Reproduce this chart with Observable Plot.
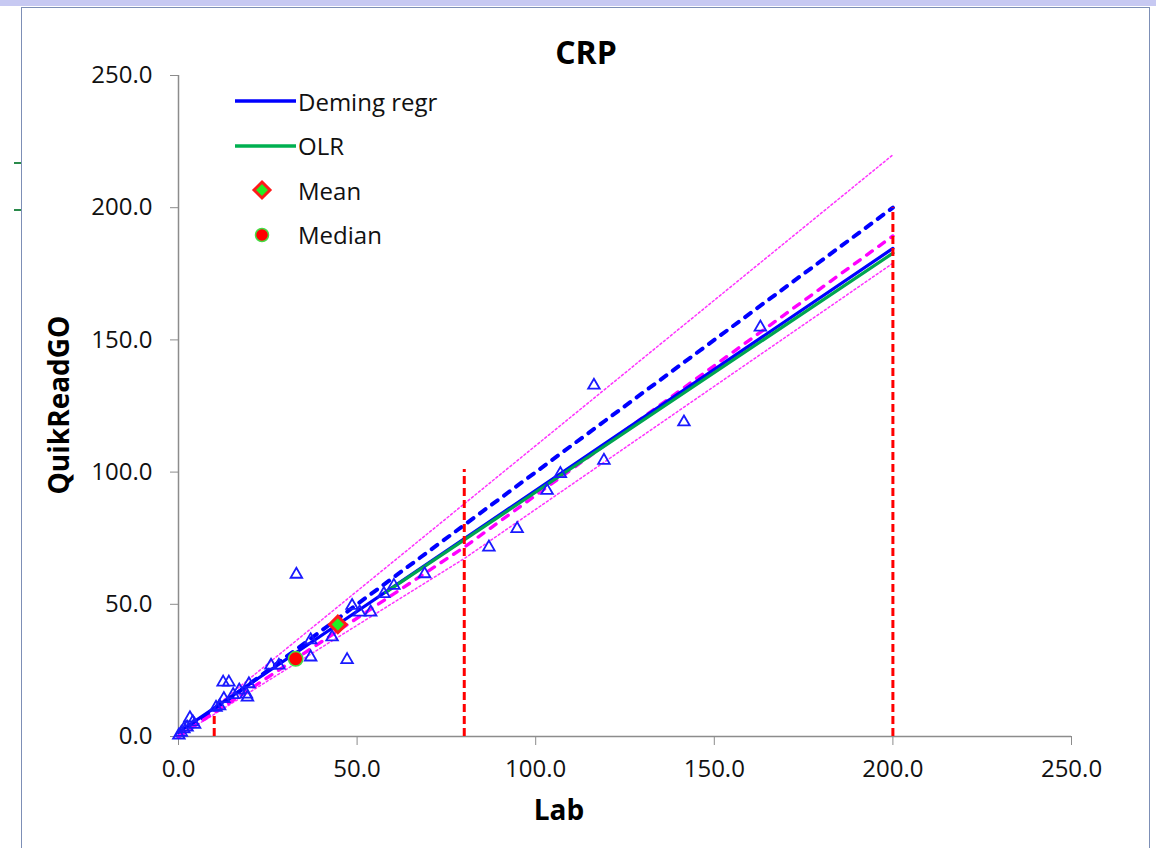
<!DOCTYPE html>
<html>
<head>
<meta charset="utf-8">
<script src="https://cdn.jsdelivr.net/npm/d3@7"></script>
<script src="https://cdn.jsdelivr.net/npm/@observablehq/plot@0.6"></script>
<style>
  body { margin: 0; background: #fff; font-family: "Open Sans", sans-serif; }
  #page { position: relative; width: 1156px; height: 848px; overflow: hidden; background: #fff; }
  #topband { position: absolute; left: 0; top: 0; width: 1156px; height: 6px; background: #c7c9f2; }
  #frame { position: absolute; left: 21px; top: 7px; width: 1129px; height: 845px; border: 1.5px solid #7d8fb6; box-sizing: border-box; }
  .cellmark { position: absolute; left: 14px; width: 7px; height: 2px; background: #2a8a4a; }
  #chart { position: absolute; left: 0; top: 0; }
  #title { position: absolute; top: 30px; left: 21px; width: 1130px; text-align: center; font-weight: bold; font-size: 32px; color: #000; }
  #xlabel { position: absolute; top: 790px; left: 459px; width: 200px; text-align: center; font-weight: bold; font-size: 28px; color: #000; }
  #ylabel { position: absolute; left: 58px; top: 405px; transform: translate(-50%, -50%) rotate(-90deg); font-weight: bold; font-size: 28px; white-space: nowrap; color: #000; }
  #legend { position: absolute; left: 232px; top: 79px; }
  .row { display: flex; align-items: center; height: 44.5px; font-size: 24px; color: #111; }
  .row svg { width: 64px; height: 30px; flex: none; margin-right: 2px; }
</style>
</head>
<body>
<div id="page">
  <div id="topband"></div>
  <div class="cellmark" style="top:162px"></div>
  <div class="cellmark" style="top:209px"></div>
  <div id="frame"></div>
  <div id="chart"></div>
  <div id="title">CRP</div>
  <div id="xlabel">Lab</div>
  <div id="ylabel">QuikReadGO</div>
  <div id="legend"></div>
</div>
<script>
// ---- data ----
const labX = [0.1, 0.8, 1.5, 2.4, 3.2, 4.0, 4.5, 10.5, 11.5, 12.7, 12.5, 14.1, 15.3, 17.0, 19.0, 19.3, 19.7,
              25.9, 28.1, 37.0, 33.0, 37.0, 43.0, 47.2, 48.6, 50.7, 53.8, 57.5, 60.3, 68.9,
              86.9, 94.8, 103.2, 106.9, 116.3, 119.1, 141.5, 162.9];
const qrY  = [0.5, 1.5, 2.8, 3.5, 7.0, 5.5, 4.5, 11.0, 11.5, 14.3, 20.5, 20.5, 15.8, 17.5, 16.0, 14.8, 19.9,
              26.9, 26.9, 30.0, 61.3, 36.5, 37.6, 29.0, 49.5, 47.0, 47.0, 54.0, 57.1, 61.5,
              71.6, 78.6, 93.0, 99.4, 132.8, 104.4, 118.9, 154.8];

const identityX = [0, 200], identityY = [0, 200];          // blue dashed
const demingX = [0, 200],   demingY = [1.6, 184.6];        // Deming regr
const olrX = [58, 200],     olrY = [54.5, 182.8];          // OLR
const pinkX = [0, 80, 200], pinkY = [0, 71.6, 189.3];      // magenta dashed
const upperX = [0, 200],    upperY = [0, 220];             // magenta dotted upper
const lowerX = [0, 80, 200], lowerY = [0, 67.3, 179];      // magenta dotted lower
const cutX = [10, 80, 200], cutTop = [9, 101, 200];        // red dashed verticals
const meanX = [44.6],   meanY = [42.4];
const medianX = [32.8], medianY = [29.4];
const xTicks = [0, 50, 100, 150, 200, 250];
const yTicks = [0, 50, 100, 150, 200, 250];

const pts = (xs, ys) => xs.map((x, i) => ({x, y: ys[i]}));
const axisGray = "#8c8c8c";

const plot = Plot.plot({
  width: 1156, height: 848,
  marginLeft: 178, marginRight: 85, marginTop: 75, marginBottom: 112,
  x: {domain: [0, 250]},
  y: {domain: [0, 250]},
  style: {fontFamily: "Open Sans", fontSize: "24px", background: "transparent", overflow: "visible"},
  marks: [
    Plot.axisX({ticks: xTicks, tickFormat: d => d.toFixed(1), tickSize: 9, tickPadding: 14, stroke: axisGray, fill: "#111", fontSize: 24, label: null}),
    Plot.axisY({ticks: yTicks, tickFormat: d => d.toFixed(1), tickSize: 8, tickPadding: 18, stroke: axisGray, fill: "#111", fontSize: 24, label: null}),
    Plot.ruleY([0], {stroke: axisGray, strokeWidth: 1.5}),
    Plot.ruleX([0], {stroke: axisGray, strokeWidth: 1.5}),
    Plot.line(pts(upperX, upperY), {x: "x", y: "y", stroke: "#ff33ff", strokeWidth: 1.5, strokeDasharray: "2,2.5"}),
    Plot.line(pts(lowerX, lowerY), {x: "x", y: "y", stroke: "#ff33ff", strokeWidth: 1.5, strokeDasharray: "2,2.5"}),
    Plot.line(pts(identityX, identityY), {x: "x", y: "y", stroke: "#0000ff", strokeWidth: 4, strokeDasharray: "7,8", strokeLinecap: "round"}),
    Plot.line(pts(pinkX, pinkY), {x: "x", y: "y", stroke: "#ff00ff", strokeWidth: 3.4, strokeDasharray: "7,8", strokeLinecap: "round"}),
    Plot.line(pts(demingX, demingY), {x: "x", y: "y", stroke: "#0000ff", strokeWidth: 3.2}),
    Plot.line(pts(olrX, olrY), {x: "x", y: "y", stroke: "#00a550", strokeWidth: 3.2}),
    Plot.ruleX(pts(cutX, cutTop), {x: "x", y1: 0, y2: "y", stroke: "#ff0000", strokeWidth: 3, strokeDasharray: "8,4"}),
    Plot.dot(pts(labX, qrY), {x: "x", y: "y", symbol: "triangle", r: 4.3, stroke: "#1a1aff", strokeWidth: 1.8, fill: "none"}),
    Plot.dot(pts(meanX, meanY), {x: "x", y: "y", symbol: "diamond2", r: 7.5, fill: "#22ee22", stroke: "#ff1a1a", strokeWidth: 3}),
    Plot.dot(pts(medianX, medianY), {x: "x", y: "y", r: 7.2, fill: "#ff0000", stroke: "#44dd44", strokeWidth: 1.5})
  ]
});
document.getElementById("chart").appendChild(plot);

// ---- legend ----
const legendItems = [
  {label: "Deming regr", kind: "line", color: "#0000ff"},
  {label: "OLR", kind: "line", color: "#00b050"},
  {label: "Mean", kind: "diamond"},
  {label: "Median", kind: "circle"}
];
const legend = d3.select("#legend");
for (const item of legendItems) {
  const row = legend.append("div").attr("class", "row");
  const s = row.append("svg").attr("viewBox", "0 0 64 30");
  if (item.kind === "line") {
    s.append("line").attr("x1", 3).attr("x2", 64).attr("y1", 15).attr("y2", 15)
      .attr("stroke", item.color).attr("stroke-width", 3.5);
  } else if (item.kind === "diamond") {
    s.append("path").attr("d", "M30,7 L38,15 L30,23 L22,15 Z")
      .attr("fill", "#22ee22").attr("stroke", "#ff1a1a").attr("stroke-width", 3);
  } else {
    s.append("circle").attr("cx", 30).attr("cy", 15).attr("r", 6.5)
      .attr("fill", "#ff0000").attr("stroke", "#44dd44").attr("stroke-width", 1.5);
  }
  row.append("span").text(item.label);
}
</script>
</body>
</html>
